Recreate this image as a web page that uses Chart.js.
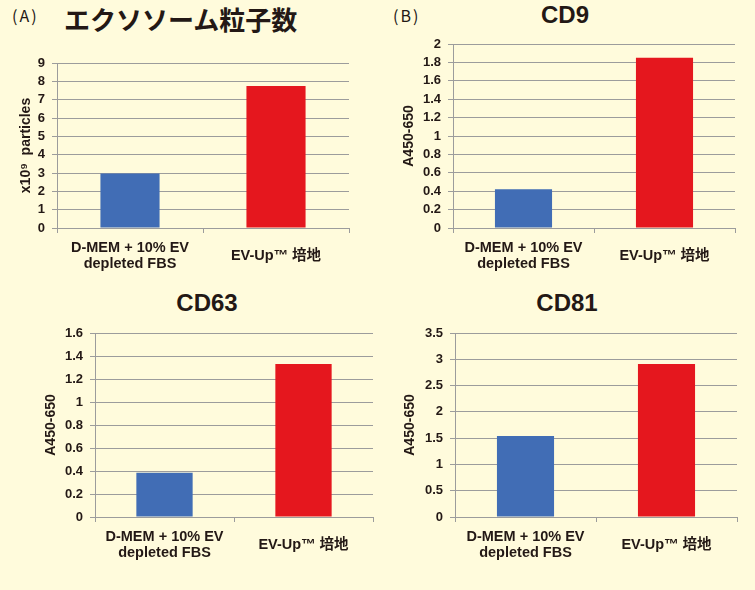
<!DOCTYPE html>
<html><head><meta charset="utf-8">
<script src="https://cdn.jsdelivr.net/npm/chart.js@4"></script>
<style>
html,body{margin:0;padding:0;background:#fffbdc;}
body{width:755px;height:590px;position:relative;overflow:hidden;font-family:'Liberation Sans','Noto Sans CJK JP',sans-serif;color:#231815;}
canvas{position:absolute;}
.t{position:absolute;font-weight:bold;white-space:nowrap;line-height:1;}
.lab{position:absolute;white-space:nowrap;line-height:1;font-size:16px;letter-spacing:2px;font-family:'Noto Sans CJK JP','Liberation Sans',sans-serif;}
.cd{font-size:24px;transform:translateX(-50%);}
</style></head><body>
<div class="lab" style="left:12px;top:7px;">(A)</div>
<div class="lab" style="left:393px;top:7px;">(B)</div>
<div class="t" style="left:64px;top:6px;font-size:26px;font-family:'Noto Sans CJK JP',sans-serif;">エクソソーム粒子数</div>
<div class="t cd" style="left:565px;top:3px;">CD9</div>
<div class="t cd" style="left:207px;top:291px;">CD63</div>
<div class="t cd" style="left:567px;top:291px;">CD81</div>
<canvas id="cA" width="377" height="280" style="left:0;top:0;"></canvas>
<canvas id="cB" width="378" height="280" style="left:377px;top:0;"></canvas>
<canvas id="cC" width="377" height="310" style="left:0;top:280px;"></canvas>
<canvas id="cD" width="378" height="310" style="left:377px;top:280px;"></canvas>
<script>
// ---- data ----
const categories = [['D-MEM + 10% EV', 'depleted FBS'], 'EV-Up™ 培地'];
const particleCounts = [2.97, 7.75];      // x10^9 particles
const cd9Values = [0.42, 1.85];           // A450-650
const cd63Values = [0.385, 1.33];         // A450-650
const cd81Values = [1.54, 2.91];          // A450-650
const particleAxis = [0, 9, 1];           // min, max, step
const cd9Axis = [0, 2, 0.2];
const cd63Axis = [0, 1.6, 0.2];
const cd81Axis = [0, 3.5, 0.5];
const particleAxisTitle = 'x10⁹  particles';
const absorbanceAxisTitle = 'A450-650';

// ---- styles ----
const barColors = ['#416db5', '#e5171e'];
const gridColor = '#9c9c9c';
const textColor = '#231815';
const fam = "'Liberation Sans', 'Noto Sans CJK JP', sans-serif";

function makeChart(id, values, axis, yTitle, box, titlePad) {
  const cv = document.getElementById(id);
  const W = cv.width, H = cv.height;
  return new Chart(cv, {
    type: 'bar',
    data: {
      labels: categories,
      datasets: [{data: values, backgroundColor: barColors, borderWidth: 0,
                  categoryPercentage: 1, barPercentage: 0.405}]
    },
    options: {
      responsive: false, animation: false, devicePixelRatio: 1,
      layout: {padding: {left: 0, top: box.top, right: W - box.right, bottom: 0}},
      plugins: {legend: {display: false}, tooltip: {enabled: false}, title: {display: false}},
      scales: {
        x: {
          offset: true,
          grid: {display: true, drawOnChartArea: false, drawTicks: true, tickLength: 5,
                 color: gridColor, offset: true},
          border: {display: true, color: gridColor, width: 1},
          ticks: {font: {family: fam, size: 14.5, weight: 'bold', lineHeight: 1.12},
                  color: textColor, padding: 15, maxRotation: 0, autoSkip: false, crossAlign: 'center'},
          afterFit: s => { s.height = H - box.bottom; }
        },
        y: {
          min: axis[0], max: axis[1],
          ticks: {stepSize: axis[2], autoSkip: false, font: {family: fam, size: 13, weight: 'bold'},
                  color: textColor, padding: 7,
                  callback: v => String(parseFloat(Number(v).toFixed(3)))},
          grid: {color: gridColor, tickLength: 5, drawTicks: true},
          border: {display: true, color: gridColor},
          title: {display: true, text: yTitle, color: textColor,
                  font: {family: fam, size: 14, weight: 'bold', lineHeight: 1.2},
                  padding: {top: titlePad, bottom: 0}},
          afterFit: s => { s.width = box.left; }
        }
      }
    }
  });
}

makeChart('cA', particleCounts, particleAxis, particleAxisTitle, {left: 57, right: 349, top: 63, bottom: 228}, 17.6);
makeChart('cB', cd9Values, cd9Axis, absorbanceAxisTitle, {left: 76, right: 358, top: 44, bottom: 228}, 24);
makeChart('cC', cd63Values, cd63Axis, absorbanceAxisTitle, {left: 95, right: 373, top: 53, bottom: 237}, 42.6);
makeChart('cD', cd81Values, cd81Axis, absorbanceAxisTitle, {left: 78, right: 360, top: 53, bottom: 237}, 25);
</script>
</body></html>
